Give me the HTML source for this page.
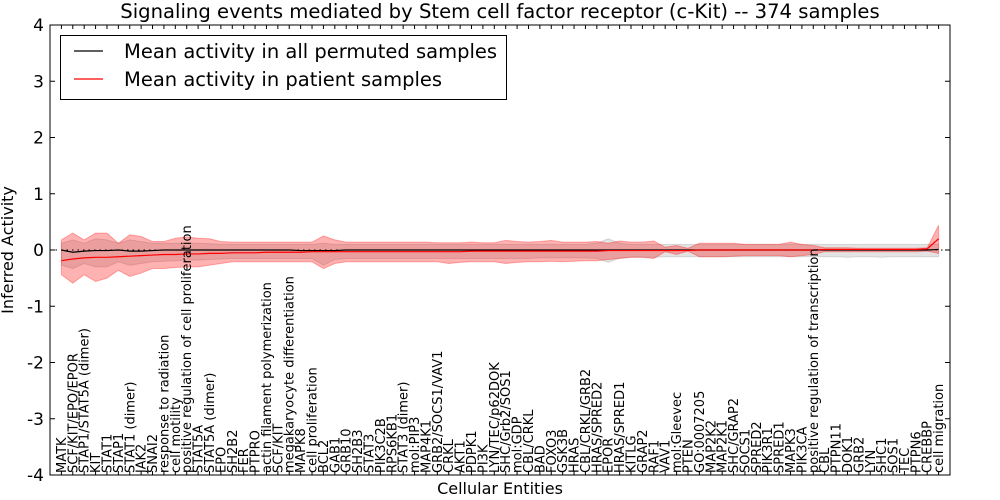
<!DOCTYPE html>
<html><head><meta charset="utf-8">
<style>
html,body{margin:0;padding:0;background:#fff;}
svg{display:block;font-family:"DejaVu Sans","Liberation Sans",sans-serif;}
</style></head>
<body>
<svg id="chart" width="1000" height="500" viewBox="0 0 1000 500" xmlns="http://www.w3.org/2000/svg">
<rect x="0" y="0" width="1000" height="500" fill="#fff"/>
<text x="500" y="18" text-anchor="middle" font-size="19.6">Signaling events mediated by Stem cell factor receptor (c-Kit) -- 374 samples</text>
<text transform="translate(13,250) rotate(-90)" text-anchor="middle" font-size="16">Inferred Activity</text>
<text x="500" y="494" text-anchor="middle" font-size="16">Cellular Entities</text>
<g id="bands"></g>
<g id="lines"></g>
<g id="ticks"></g>
<g id="xlabels"></g>
<rect x="50" y="25" width="900" height="450" fill="none" stroke="#000" stroke-width="1"/>
<g>
<rect x="60.5" y="35.5" width="446" height="64" fill="#fff" stroke="#000" stroke-width="1"/>
<line x1="74" y1="51" x2="103" y2="51" stroke="#000" stroke-width="1.2"/>
<text x="124" y="58" font-size="19.5">Mean activity in all permuted samples</text>
<line x1="74" y1="79" x2="103" y2="79" stroke="#f00" stroke-width="1.2"/>
<text x="124" y="86" font-size="19.5">Mean activity in patient samples</text>
</g>
</svg>
<script>
const categories = ["MATK","SCF/KIT/EPO/EPOR","STAP1/STAT5A (dimer)","KIT","STAT1","STAP1","STAT1 (dimer)","JAK2","SNAI2","response to radiation","cell motility","positive regulation of cell proliferation","STAT5A","STAT5A (dimer)","EPO","SH2B2","FER","PTPRO","actin filament polymerization","SCF/KIT","megakaryocyte differentiation","MAPK8","cell proliferation","BCL2","GAB1","GRB10","SH2B3","STAT3","PIK3C2B","RPS6KB1","STAT3 (dimer)","mol:PIP3","MAP4K1","GRB2/SOCS1/VAV1","CRKL","AKT1","PDPK1","PI3K","LYN/TEC/p62DOK","SHC/Grb2/SOS1","mol:GDP","CBL/CRKL","BAD","FOXO3","GSK3B","HRAS","CBL/CRKL/GRB2","HRAS/SPRED2","EPOR","HRAS/SPRED1","KITLG","GRAP2","RAF1","VAV1","mol:Gleevec","PTEN","GO:0007205","MAP2K2","MAP2K1","SHC/GRAP2","SOCS1","SPRED2","PIK3R1","SPRED1","MAPK3","PIK3CA","positive regulation of transcription","CBL","PTPN11","DOK1","GRB2","LYN","SHC1","SOS1","TEC","PTPN6","CREBBP","cell migration"];
const patientMean = [-0.19,-0.16,-0.14,-0.13,-0.13,-0.12,-0.11,-0.10,-0.09,-0.08,-0.08,-0.07,-0.07,-0.06,-0.06,-0.05,-0.05,-0.05,-0.04,-0.04,-0.04,-0.04,-0.03,-0.03,-0.03,-0.03,-0.03,-0.03,-0.03,-0.03,-0.03,-0.03,-0.03,-0.03,-0.03,-0.03,-0.02,-0.02,-0.02,-0.02,-0.02,-0.02,-0.02,-0.02,-0.02,-0.02,-0.02,-0.02,-0.01,-0.01,-0.01,-0.01,-0.01,-0.01,-0.01,-0.01,0,0,0,0,0,0,0,0,0,0,0,0.01,0.01,0.01,0.01,0.01,0.01,0.01,0.01,0.01,0.02,0.2];
const patientUpper = [0.18,0.30,0.18,0.30,0.30,0.12,0.27,0.24,0.15,0.15,0.21,0.23,0.21,0.20,0.15,0.14,0.14,0.14,0.14,0.14,0.14,0.14,0.14,0.25,0.18,0.14,0.14,0.14,0.14,0.14,0.14,0.14,0.14,0.13,0.13,0.13,0.14,0.13,0.13,0.17,0.15,0.14,0.15,0.17,0.14,0.14,0.14,0.15,0.12,0.16,0.14,0.14,0.16,0.05,0.08,0.03,0.12,0.12,0.12,0.12,0.10,0.10,0.10,0.10,0.14,0.10,0.08,0.04,0.04,0.04,0.03,0.03,0.03,0.03,0.03,0.03,0.04,0.44];
const patientLower = [-0.44,-0.59,-0.44,-0.56,-0.50,-0.36,-0.47,-0.41,-0.33,-0.33,-0.31,-0.30,-0.30,-0.27,-0.24,-0.21,-0.21,-0.21,-0.21,-0.21,-0.21,-0.21,-0.21,-0.33,-0.24,-0.21,-0.21,-0.21,-0.21,-0.21,-0.21,-0.21,-0.21,-0.21,-0.24,-0.22,-0.21,-0.21,-0.21,-0.24,-0.22,-0.21,-0.21,-0.20,-0.21,-0.20,-0.19,-0.19,-0.17,-0.15,-0.13,-0.13,-0.15,-0.03,-0.08,-0.02,-0.12,-0.12,-0.12,-0.11,-0.10,-0.10,-0.10,-0.10,-0.12,-0.10,-0.08,-0.03,-0.03,-0.03,-0.03,-0.03,-0.03,-0.03,-0.03,-0.03,-0.02,-0.06];
const permutedMean = [0,-0.04,-0.02,-0.01,-0.01,0,-0.02,-0.02,-0.01,0,0,0,0,0,0,0,0,0,0,0,0,-0.01,-0.01,-0.01,-0.01,0,0,0,0,0,0,0,0,0,0,0,0,0,0,0,0,0,0,0,0,0,0,0,0,0,0,0,0,0,0,0,0,0,0,0,0,0,0,0,0,0,0,0,0,0,0,0,0,0,0,0,0,0.01];
const permutedUpper = [0.12,0.18,0.12,0.20,0.18,0.12,0.18,0.15,0.12,0.12,0.12,0.12,0.12,0.11,0.10,0.10,0.10,0.10,0.10,0.10,0.10,0.10,0.10,0.12,0.10,0.10,0.10,0.10,0.10,0.10,0.10,0.10,0.10,0.10,0.10,0.10,0.10,0.10,0.10,0.10,0.10,0.10,0.10,0.10,0.10,0.10,0.10,0.12,0.20,0.12,0.10,0.10,0.10,0.10,0.10,0.10,0.10,0.10,0.10,0.10,0.10,0.10,0.10,0.10,0.10,0.10,0.10,0.10,0.10,0.10,0.10,0.10,0.10,0.10,0.10,0.10,0.10,0.10];
const permutedLower = [-0.27,-0.33,-0.24,-0.30,-0.30,-0.21,-0.27,-0.24,-0.21,-0.20,-0.19,-0.18,-0.18,-0.17,-0.16,-0.15,-0.15,-0.15,-0.15,-0.15,-0.15,-0.15,-0.15,-0.27,-0.17,-0.15,-0.15,-0.15,-0.15,-0.15,-0.15,-0.15,-0.15,-0.15,-0.15,-0.15,-0.15,-0.15,-0.15,-0.15,-0.15,-0.15,-0.14,-0.14,-0.14,-0.14,-0.14,-0.15,-0.22,-0.14,-0.13,-0.13,-0.13,-0.12,-0.12,-0.12,-0.12,-0.12,-0.12,-0.12,-0.12,-0.12,-0.12,-0.12,-0.12,-0.12,-0.12,-0.12,-0.12,-0.13,-0.12,-0.12,-0.13,-0.12,-0.12,-0.12,-0.12,-0.12];
const yTicks = [-4,-3,-2,-1,0,1,2,3,4];

const NS = "http://www.w3.org/2000/svg";
const L = 50, R = 950, T = 25, B = 475;
const xScale = i => L + (i + 1) * (R - L) / (categories.length + 1);
const yScale = v => T + (4 - v) * (B - T) / 8;
function mk(tag, attrs, parent) {
  const e = document.createElementNS(NS, tag);
  for (const k in attrs) e.setAttribute(k, attrs[k]);
  parent.appendChild(e);
  return e;
}
function bandPath(up, lo) {
  let d = up.map((v, i) => (i ? "L" : "M") + xScale(i).toFixed(2) + "," + yScale(v).toFixed(2)).join("");
  for (let i = lo.length - 1; i >= 0; i--) d += "L" + xScale(i).toFixed(2) + "," + yScale(lo[i]).toFixed(2);
  return d + "Z";
}
function linePath(arr) {
  return arr.map((v, i) => (i ? "L" : "M") + xScale(i).toFixed(2) + "," + yScale(v).toFixed(2)).join("");
}
const bands = document.getElementById("bands");
const gb = mk("path", {d: bandPath(permutedUpper, permutedLower), fill: "rgba(128,128,128,0.22)", stroke: "rgba(128,128,128,0.25)", "stroke-width": "1"}, bands);


const rb = mk("path", {d: bandPath(patientUpper, patientLower), fill: "rgba(255,0,0,0.3)", stroke: "rgba(255,0,0,0.3)", "stroke-width": "1"}, bands);



const lines = document.getElementById("lines");
const zl = mk("line", {x1: L, x2: R, y1: yScale(0), y2: yScale(0), stroke: "#000", "stroke-width": "1", "stroke-dasharray": "1.5,4"}, lines);


const bl = mk("path", {d: linePath(permutedMean), fill: "none", stroke: "#000", "stroke-width": "1.2"}, lines);


const rl = mk("path", {d: linePath(patientMean), fill: "none", stroke: "#f00", "stroke-width": "1.2"}, lines);



const ticks = document.getElementById("ticks");
yTicks.forEach(v => {
  const y = yScale(v);
  const t1 = mk("line", {x1: L, x2: L + 5, y1: y, y2: y, stroke: "#000"}, ticks);
  
  
  const t2 = mk("line", {x1: R - 5, x2: R, y1: y, y2: y, stroke: "#000"}, ticks);
  
  
  const lb = mk("text", {x: L - 6, y: y + 6, "text-anchor": "end", "font-size": "17"}, ticks);
  lb.textContent = v;
  
  
});
const xl = document.getElementById("xlabels");
categories.forEach((c, i) => {
  const x = xScale(i);
  const t1 = mk("line", {x1: x, x2: x, y1: B - 4, y2: B, stroke: "#000"}, ticks);
  
  
  const t2 = mk("line", {x1: x, x2: x, y1: T, y2: T + 4, stroke: "#000"}, ticks);
  
  
  const lb = mk("text", {transform: "translate(" + (x + 4.5).toFixed(2) + "," + (B - 2) + ") rotate(-90)", "text-anchor": "start", "font-size": "13"}, xl);
  lb.textContent = c;
  
  
});
</script>
</body></html>
